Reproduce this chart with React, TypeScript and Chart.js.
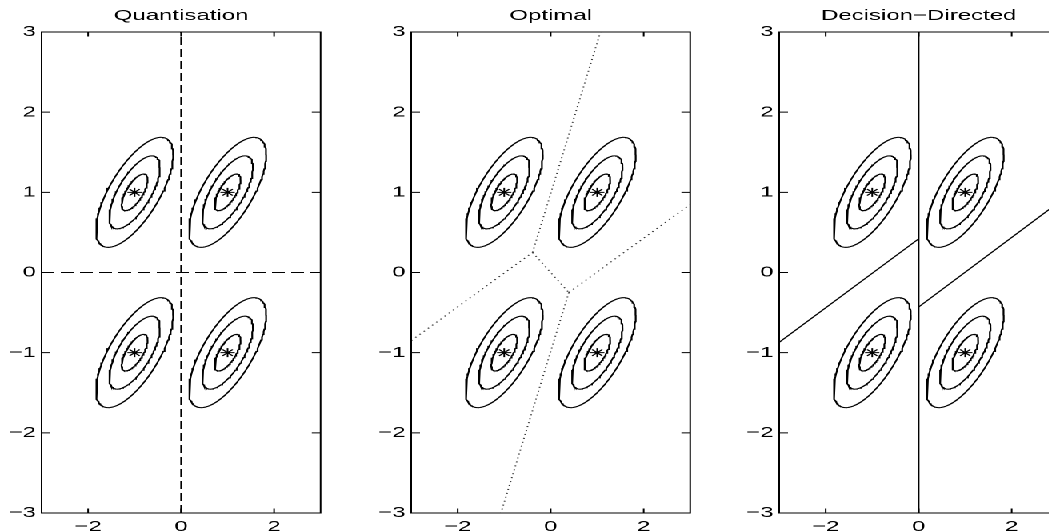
import React, { useEffect, useRef } from "react";
import { Chart, registerables } from "chart.js";

Chart.register(...registerables);

// ---------------- data ----------------
const TITLES = ["Quantisation", "Optimal", "Decision\u2212Directed"];
const AXIS_MIN = -3;
const AXIS_MAX = 3;
const X_TICKS = [-2, 0, 2];
const Y_TICKS = [-3, -2, -1, 0, 1, 2, 3];

// symbol centres (the four constellation points)
const CENTRE_X = [-1, 1, -1, 1];
const CENTRE_Y = [1, 1, -1, -1];

// contour levels: half-extent in x, half-extent in y (outer, middle, inner)
const CONTOUR_HALF_X = [0.83, 0.545, 0.28];
const CONTOUR_HALF_Y = [0.686, 0.455, 0.228];
const CONTOUR_CORR = 0.686;

// Quantisation boundaries (dashed)
const QUANT_SEGMENTS_X = [[0, 0], [-3, 3]];
const QUANT_SEGMENTS_Y = [[-3, 3], [0, 0]];

// Optimal boundaries (dotted)
const OPT_SEGMENTS_X = [
  [-0.39, 1.07],
  [-3, -0.39],
  [-0.39, 0.39],
  [0.39, 3],
  [0.39, -1.07],
];
const OPT_SEGMENTS_Y = [
  [0.25, 3],
  [-0.85, 0.25],
  [0.25, -0.25],
  [-0.25, 0.85],
  [-0.25, -3],
];

// Decision-directed boundaries (solid)
const DD_SEGMENTS_X = [[0, 0], [-3, 0], [0, 3]];
const DD_SEGMENTS_Y = [[-3, 3], [-0.87, 0.42], [-0.43, 0.87]];

// ---------------- layout ----------------
const STRETCH = 1.6; // the reference is horizontally stretched
const PLOT_LEFT_PX = [41.5, 410.8, 779.2];
const PLOT_W_PX = 279;
const PLOT_TOP = 32;
const PLOT_BOTTOM = 513;
const VIEW_W = 1049;
const VIEW_H = 531;
const Y_AXIS_W = 30;
const RIGHT_PAD = 8;
const FONT_FAMILY = "'Liberation Sans', Arial, Helvetica, sans-serif";

const SEGMENT_SETS_X = [QUANT_SEGMENTS_X, OPT_SEGMENTS_X, DD_SEGMENTS_X];
const SEGMENT_SETS_Y = [QUANT_SEGMENTS_Y, OPT_SEGMENTS_Y, DD_SEGMENTS_Y];
const SEGMENT_DASH = [[8, 4], [1, 3], []];
const SEGMENT_COLOR = ["#000", "#333", "#000"];

function ellipsePoints(cx: number, cy: number, hx: number, hy: number) {
  const pts: { x: number; y: number }[] = [];
  const n = 120;
  const s = Math.sqrt(1 - CONTOUR_CORR * CONTOUR_CORR);
  for (let i = 0; i <= n; i++) {
    const t = (2 * Math.PI * i) / n;
    pts.push({
      x: cx + hx * Math.cos(t),
      y: cy + hy * (CONTOUR_CORR * Math.cos(t) + s * Math.sin(t)),
    });
  }
  return pts;
}

const fmt = (v: number | string) => {
  const n = Number(v);
  return n < 0 ? "\u2212" + Math.abs(n) : String(n);
};

const TICK_LEN_H = 5.5; // horizontal tick marks (y axis)
const TICK_LEN_V = 4.5; // vertical tick marks (x axis)

const boxPlugin = {
  id: "matlabBox",
  afterDatasetsDraw(chart: any) {
    const { ctx, chartArea: a, scales } = chart;
    ctx.save();
    ctx.strokeStyle = "#000";
    ctx.lineWidth = 1;
    ctx.setLineDash([]);
    ctx.beginPath();
    ctx.rect(a.left, a.top, a.right - a.left, a.bottom - a.top);
    for (const t of scales.x.ticks) {
      const px = scales.x.getPixelForValue(t.value);
      ctx.moveTo(px, a.bottom);
      ctx.lineTo(px, a.bottom - TICK_LEN_V);
      ctx.moveTo(px, a.top);
      ctx.lineTo(px, a.top + TICK_LEN_V);
    }
    for (const t of scales.y.ticks) {
      const py = scales.y.getPixelForValue(t.value);
      ctx.moveTo(a.left, py);
      ctx.lineTo(a.left + TICK_LEN_H, py);
      ctx.moveTo(a.right, py);
      ctx.lineTo(a.right - TICK_LEN_H, py);
    }
    ctx.stroke();
    ctx.restore();
  },
};

function makeConfig(i: number, rightPad: number): any {
  const datasets: any[] = [];
  for (let c = 0; c < CENTRE_X.length; c++) {
    for (let l = 0; l < CONTOUR_HALF_X.length; l++) {
      datasets.push({
        data: ellipsePoints(CENTRE_X[c], CENTRE_Y[c], CONTOUR_HALF_X[l], CONTOUR_HALF_Y[l]),
        showLine: true,
        pointRadius: 0,
        borderColor: "#000",
        borderWidth: 1.1,
        tension: 0,
      });
    }
  }
  const sx = SEGMENT_SETS_X[i];
  const sy = SEGMENT_SETS_Y[i];
  for (let k = 0; k < sx.length; k++) {
    datasets.push({
      data: sx[k].map((x, j) => ({ x, y: sy[k][j] })),
      showLine: true,
      pointRadius: 0,
      borderColor: SEGMENT_COLOR[i],
      borderWidth: 1,
      borderDash: SEGMENT_DASH[i],
      tension: 0,
    });
  }
  datasets.push({
    data: CENTRE_X.map((x, j) => ({ x, y: CENTRE_Y[j] })),
    showLine: false,
    pointStyle: "star",
    pointRadius: 4.5,
    pointBorderColor: "#000",
    pointBackgroundColor: "#000",
    pointBorderWidth: 1,
  });

  return {
    type: "scatter",
    data: { datasets },
    plugins: [boxPlugin],
    options: {
      animation: false,
      responsive: false,
      devicePixelRatio: 2,
      events: [],
      layout: { padding: { left: 0, right: rightPad, top: 0, bottom: 0 } },
      plugins: {
        legend: { display: false },
        tooltip: { enabled: false },
        title: {
          display: true,
          text: TITLES[i],
          fullSize: false,
          color: "#000",
          font: { family: FONT_FAMILY, size: 15, weight: "normal", lineHeight: 1.2 },
          padding: { top: 7, bottom: 7 },
        },
      },
      scales: {
        x: {
          type: "linear",
          min: AXIS_MIN,
          max: AXIS_MAX,
          afterBuildTicks: (s: any) => {
            s.ticks = X_TICKS.map((v) => ({ value: v }));
          },
          afterFit: (s: any) => {
            s.height = VIEW_H - PLOT_BOTTOM;
          },
          grid: { display: false, drawTicks: false },
          border: { display: false },
          ticks: {
            padding: 5,
            color: "#000",
            autoSkip: false,
            maxRotation: 0,
            font: { family: FONT_FAMILY, size: 15, lineHeight: 1.2 },
            callback: fmt,
          },
        },
        y: {
          type: "linear",
          min: AXIS_MIN,
          max: AXIS_MAX,
          afterBuildTicks: (s: any) => {
            s.ticks = Y_TICKS.map((v) => ({ value: v }));
          },
          afterFit: (s: any) => {
            s.width = Y_AXIS_W;
          },
          grid: { display: false, drawTicks: false },
          border: { display: false },
          ticks: {
            padding: 3.5,
            color: "#000",
            autoSkip: false,
            font: { family: FONT_FAMILY, size: 15, lineHeight: 1.2 },
            callback: fmt,
          },
        },
      },
    },
  };
}

export default function App() {
  const r0 = useRef<HTMLCanvasElement>(null);
  const r1 = useRef<HTMLCanvasElement>(null);
  const r2 = useRef<HTMLCanvasElement>(null);
  const refs = [r0, r1, r2];

  const geo = PLOT_LEFT_PX.map((lp) => {
    const innerW = PLOT_W_PX / STRETCH;
    const left = lp / STRETCH - Y_AXIS_W;
    const width = Math.ceil(Y_AXIS_W + innerW + RIGHT_PAD);
    const rightPad = width - Y_AXIS_W - innerW;
    return { left, width, rightPad };
  });

  useEffect(() => {
    const charts = refs.map(
      (r, i) => new Chart(r.current as HTMLCanvasElement, makeConfig(i, geo[i].rightPad))
    );
    return () => charts.forEach((c) => c.destroy());
  }, []);

  return (
    <div
      style={{
        position: "fixed",
        left: 0,
        top: 0,
        width: VIEW_W,
        height: VIEW_H,
        overflow: "hidden",
        background: "#fff",
      }}
    >
      <div
        style={{
          position: "absolute",
          left: 0,
          top: 0,
          width: VIEW_W / STRETCH,
          height: VIEW_H,
          transform: `scaleX(${STRETCH})`,
          transformOrigin: "0 0",
        }}
      >
        {geo.map((g, i) => (
          <canvas
            key={i}
            ref={refs[i]}
            width={g.width}
            height={VIEW_H}
            style={{ position: "absolute", left: g.left, top: 0 }}
          />
        ))}
      </div>
    </div>
  );
}
